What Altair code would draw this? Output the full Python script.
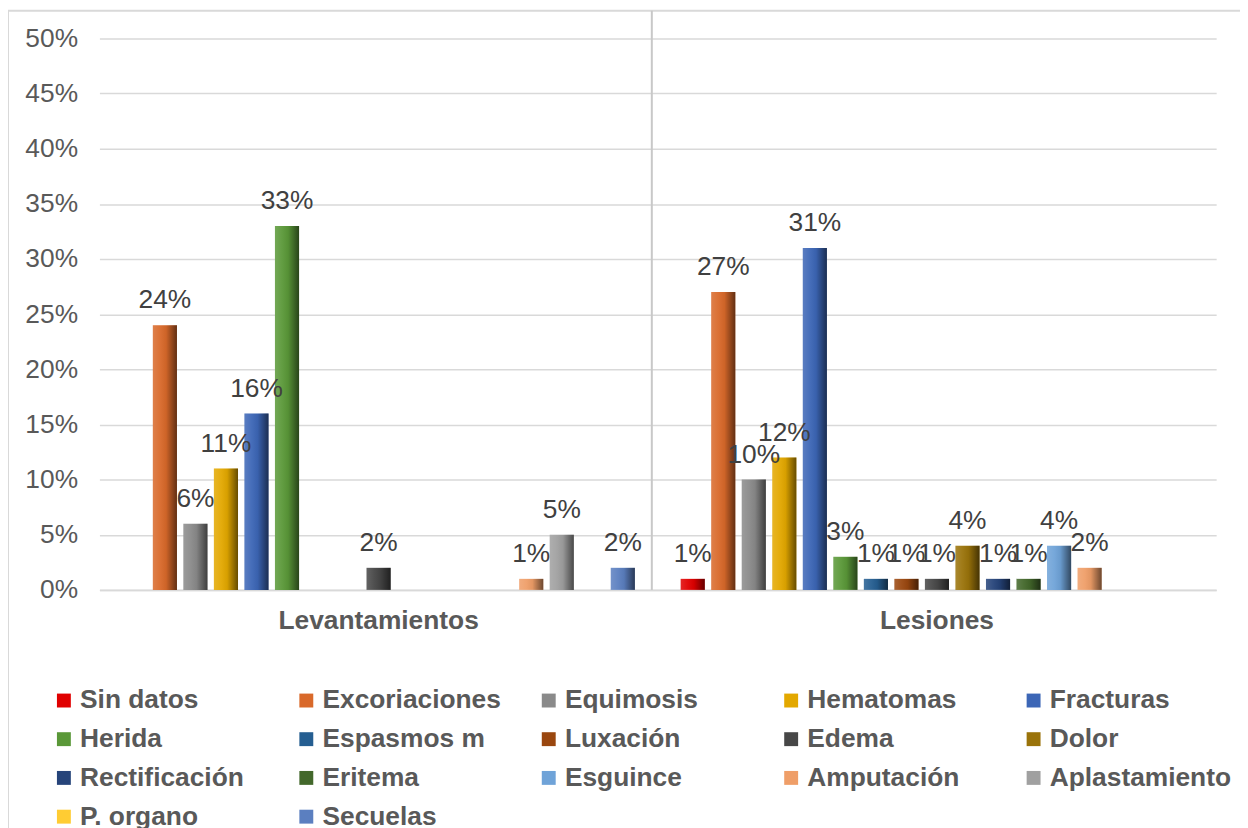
import altair as alt
import pandas as pd

groups = ["Levantamientos", "Lesiones"]
series = ["Sin datos", "Excoriaciones", "Equimosis", "Hematomas", "Fracturas",
          "Herida", "Espasmos m", "Luxación", "Edema", "Dolor",
          "Rectificación", "Eritema", "Esguince", "Amputación", "Aplastamiento",
          "P. organo", "Secuelas"]
levantamientos = [None, 24, 6, 11, 16, 33, None, None, 2, None, None, None, None, 1, 5, None, 2]
lesiones = [1, 27, 10, 12, 31, 3, 1, 1, 1, 4, 1, 1, 4, 2, None, None, None]
colors = ["#E00000", "#D9692A", "#8A8A8A", "#E3A800", "#3C66B6",
          "#5A9838", "#255E91", "#9A470F", "#474747", "#9A730A",
          "#26447A", "#43682B", "#6FA3D8", "#EF9E68", "#A0A0A0",
          "#FFCC33", "#5B7FC0"]

rows = []
for g, vals in zip(groups, [levantamientos, lesiones]):
    for s, v in zip(series, vals):
        if v is not None:
            rows.append({"grupo": g, "serie": s, "valor": v, "lbl": f"{v}%"})
df = pd.DataFrame(rows)

FONT = "Liberation Sans"
FS = 26.5

x_enc = alt.X("grupo:N", sort=groups,
              scale=alt.Scale(domain=groups, paddingInner=0, paddingOuter=0),
              axis=alt.Axis(title=None, labelAngle=0, labelFontSize=FS, labelFontWeight="bold",
                            labelColor="#595959", labelPadding=18, labelLimit=600, ticks=False,
                            domainColor="#D9D9D9", domainWidth=2))
xo_enc = alt.XOffset("serie:N", scale=alt.Scale(domain=series, paddingInner=0.21, paddingOuter=0.75))
y_enc = alt.Y("valor:Q", stack=None,
              scale=alt.Scale(domain=[0, 50]),
              axis=alt.Axis(title=None, values=list(range(0, 55, 5)), labelExpr="datum.value + '%'",
                            labelFontSize=FS, labelColor="#595959", labelPadding=22,
                            ticks=False, domain=False, gridColor="#D9D9D9", gridWidth=1.5))

base = alt.Chart(df).encode(x=x_enc, xOffset=xo_enc, y=y_enc)

bars = base.mark_bar().encode(
    color=alt.Color("serie:N", scale=alt.Scale(domain=series, range=colors),
                    legend=alt.Legend(title=None, orient="none", legendX=-49, legendY=653,
                                      direction="horizontal",
                                      columns=5, gridAlign="all", columnPadding=31, rowPadding=12,
                                      symbolType="square", symbolSize=196, symbolStrokeWidth=0,
                                      symbolOpacity=1, labelFontSize=FS, labelFontWeight="bold",
                                      labelColor="#595959", labelOffset=3, labelLimit=400))
)

shade = base.mark_bar(fill=alt.Gradient(
    gradient="linear", x1=0, x2=1, y1=0, y2=0,
    stops=[alt.GradientStop(color="rgba(255,255,255,0.15)", offset=0),
           alt.GradientStop(color="rgba(255,255,255,0.05)", offset=0.3),
           alt.GradientStop(color="rgba(0,0,0,0.05)", offset=0.55),
           alt.GradientStop(color="rgba(0,0,0,0.55)", offset=1)]))

labels = base.mark_text(dy=-17, baseline="alphabetic", fontSize=FS, color="#404040").encode(
    text="lbl:N")

one = pd.DataFrame({"a": [0]})
divider = alt.Chart(one).mark_rule(color="#C8C8C8", strokeWidth=2).encode(
    x=alt.value(556), y=alt.value(-28), y2=alt.value(555))
border = alt.Chart(one).mark_rect(fillOpacity=0, stroke="#D9D9D9", strokeWidth=2).encode(
    x=alt.value(-92), x2=alt.value(1400), y=alt.value(-28), y2=alt.value(1200))

chart = alt.layer(border, divider, bars, shade, labels).properties(
    width=1124, height=555,
    autosize=alt.AutoSizeParams(type="none"),
    padding={"left": 92, "top": 28, "right": 24, "bottom": 237},
).configure(font=FONT).configure_view(stroke=None)

chart.save("out.html", embed_options={"renderer": "svg", "actions": False})
